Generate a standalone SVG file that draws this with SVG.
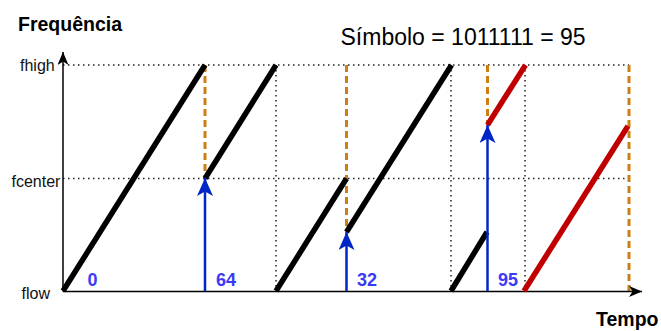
<svg xmlns="http://www.w3.org/2000/svg" width="661" height="331" viewBox="0 0 661 331">
<style>
.grid{stroke:#222;stroke-width:1.5;stroke-dasharray:1.5 3.5;fill:none}
.dash{stroke:#CC7F14;stroke-width:3;stroke-dasharray:7 4;fill:none}
.chirp{stroke:#000;stroke-width:5.5;fill:none}
.red{stroke:#C00000;stroke-width:5.5;fill:none}
.shift{stroke:#0026C8;stroke-width:2.5;fill:none;marker-end:url(#blueHead)}
.axis{stroke:#000;stroke-width:1.5;fill:none}
.lbl{font-family:"Liberation Sans",Arial,sans-serif;font-size:16px;fill:#111}
.num{font-family:"Liberation Sans",Arial,sans-serif;font-size:18px;font-weight:bold;fill:#3B3BF5}
.title{font-family:"Liberation Sans",Arial,sans-serif;font-size:19.5px;font-weight:bold;fill:#000}
.sym{font-family:"Liberation Sans",Arial,sans-serif;font-size:23px;fill:#000}
</style>
<defs>
<marker id="blueHead" markerUnits="userSpaceOnUse" markerWidth="18" markerHeight="16" refX="18" refY="8" orient="auto" viewBox="0 0 18 16">
<path d="M18,8 L0,0 L4.5,8 L0,16 Z" fill="#0026C8"/>
</marker>
<marker id="axHead" markerUnits="userSpaceOnUse" markerWidth="13" markerHeight="11" refX="13" refY="5.5" orient="auto" viewBox="0 0 13 11">
<path d="M13,5.5 L0,0 L3.5,5.5 L0,11 Z" fill="#000"/>
</marker>
</defs>

<g id="grid">
<line class="grid" x1="63" y1="65" x2="629" y2="65"/>
<line class="grid" x1="63" y1="178.5" x2="629" y2="178.5"/>
<line class="grid" x1="276" y1="65" x2="276" y2="291"/>
<line class="grid" x1="451" y1="65" x2="451" y2="291"/>
<line class="grid" x1="525" y1="65" x2="525" y2="291"/>
</g>

<g id="symbol-boundaries">
<line class="dash" x1="205" y1="65" x2="205" y2="178"/>
<line class="dash" x1="346.5" y1="65" x2="346.5" y2="232"/>
<line class="dash" x1="487.5" y1="65" x2="487.5" y2="125"/>
<line class="dash" x1="629" y1="65" x2="629" y2="291"/>
</g>

<g id="axes">
<line class="axis" x1="63" y1="291.5" x2="63" y2="52" marker-end="url(#axHead)"/>
<line class="axis" x1="63" y1="291.5" x2="642" y2="291.5" stroke="#333" stroke-width="2" marker-end="url(#axHead)"/>
</g>

<g id="chirps">
<line class="chirp" x1="63" y1="291" x2="205" y2="65"/>
<line class="chirp" x1="205" y1="178.5" x2="276" y2="65"/>
<line class="chirp" x1="276" y1="291" x2="346.5" y2="178.5"/>
<line class="chirp" x1="346.5" y1="232" x2="451.5" y2="65"/>
<line class="chirp" x1="451" y1="291" x2="487" y2="232"/>
<line class="red" x1="487.5" y1="125" x2="525.5" y2="65"/>
<line class="red" x1="524" y1="291" x2="628" y2="126"/>
</g>

<g id="connectors">
<line class="shift" x1="205" y1="291" x2="205" y2="178"/>
<line class="shift" x1="346.5" y1="291" x2="346.5" y2="232"/>
<line class="shift" x1="487.5" y1="291" x2="487.5" y2="125"/>
</g>

<g id="labels">
<text class="title" x="18" y="31">Frequência</text>
<text class="title" x="596" y="326" font-size="19px">Tempo</text>
<text class="sym" x="340.5" y="45">Símbolo = 1011111 = 95</text>
<text class="lbl" x="20" y="70.5">fhigh</text>
<text class="lbl" x="11.5" y="187">fcenter</text>
<text class="lbl" x="21.5" y="298.5">flow</text>
<text class="num" x="87.5" y="286">0</text>
<text class="num" x="216" y="286">64</text>
<text class="num" x="357" y="286">32</text>
<text class="num" x="498" y="286">95</text>
</g>
</svg>
